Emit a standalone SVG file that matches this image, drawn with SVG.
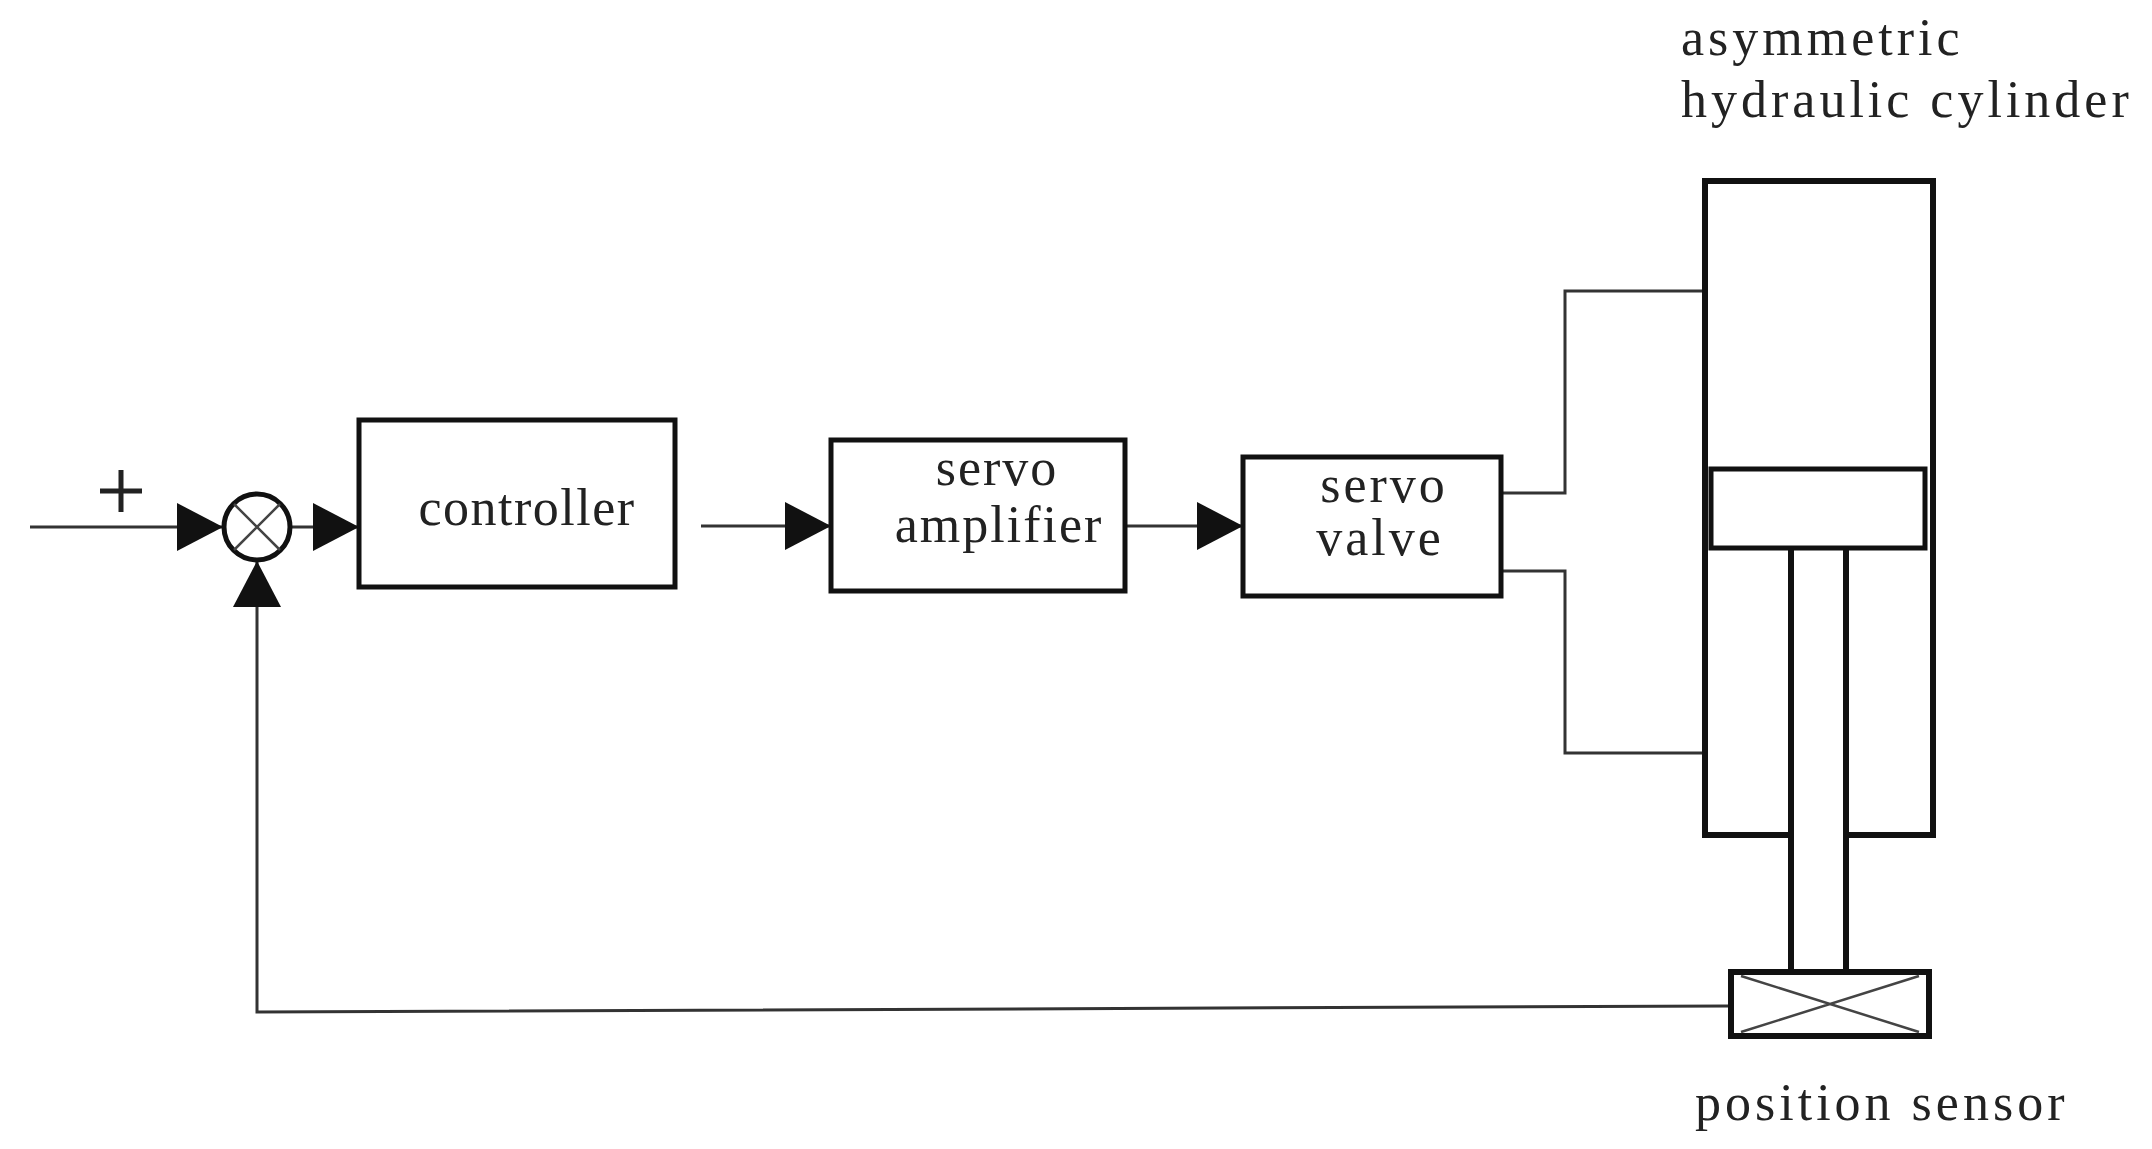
<svg xmlns="http://www.w3.org/2000/svg" width="2152" height="1149" viewBox="0 0 2152 1149">
<style>
text{font-family:"Liberation Serif","DejaVu Serif",serif;fill:#222;font-size:52px}
.box{fill:#fff;stroke:#111;stroke-width:5}
.ln{fill:none;stroke:#333;stroke-width:3}
.th{fill:none;stroke:#111;stroke-width:6}
</style>
<defs>
<marker id="b" markerWidth="46" markerHeight="48" refX="46" refY="24" orient="auto" markerUnits="userSpaceOnUse"><path d="M0,0L46,24L0,48z" fill="#111"/></marker></defs>
<rect width="2152" height="1149" fill="#fff"/>
<g id="connectors">
<path class="ln" d="M30,527H223" marker-end="url(#b)"/>
<path class="ln" d="M291,527H359" marker-end="url(#b)"/>
<path class="ln" d="M701,526H831" marker-end="url(#b)"/>
<path class="ln" d="M1125,526H1243" marker-end="url(#b)"/>
<path class="ln" d="M1501,493H1565V291H1705"/>
<path class="ln" d="M1501,571H1565V753H1705"/>
<path class="ln" d="M1729,1006L257,1012V561" marker-end="url(#b)"/>
</g>
<g id="sum"><circle cx="257" cy="527" r="33" fill="#fff" stroke="#111" stroke-width="5"/><path d="M234,504L280,550M280,504L234,550" stroke="#444" stroke-width="2.5"/><path d="M100,491H142M121,470V512" stroke="#222" stroke-width="5"/></g>
<g id="controller"><rect class="box" x="359" y="420" width="316" height="167"/><text x="527" y="525" text-anchor="middle" font-size="56" letter-spacing="1.5">controller</text></g>
<g id="amp"><rect class="box" x="831" y="440" width="294" height="151"/><text x="997" y="485" text-anchor="middle" font-size="52" letter-spacing="2">servo</text><text x="999" y="542" text-anchor="middle" font-size="52" letter-spacing="2">amplifier</text></g>
<g id="valve"><rect class="box" x="1243" y="457" width="258" height="139"/><text x="1384" y="502" text-anchor="middle" letter-spacing="3">servo</text><text x="1380" y="555" text-anchor="middle" letter-spacing="3">valve</text></g>
<g id="cylinder">
<path class="th" d="M1791,835H1705V181H1933V835H1846"/>
<rect x="1711" y="469" width="214" height="79" fill="#fff" stroke="#111" stroke-width="5"/>
<path class="th" d="M1791,548V970M1846,548V970"/>
<text x="1681" y="55" letter-spacing="4">asymmetric</text><text x="1681" y="117" letter-spacing="4">hydraulic cylinder</text>
</g>
<g id="sensor"><rect x="1731" y="972" width="198" height="64" fill="#fff" stroke="#111" stroke-width="6"/><path d="M1741,976L1919,1032M1741,1032L1919,976" stroke="#444" stroke-width="2.5"/><text x="1695" y="1120" letter-spacing="4">position sensor</text></g>
</svg>
